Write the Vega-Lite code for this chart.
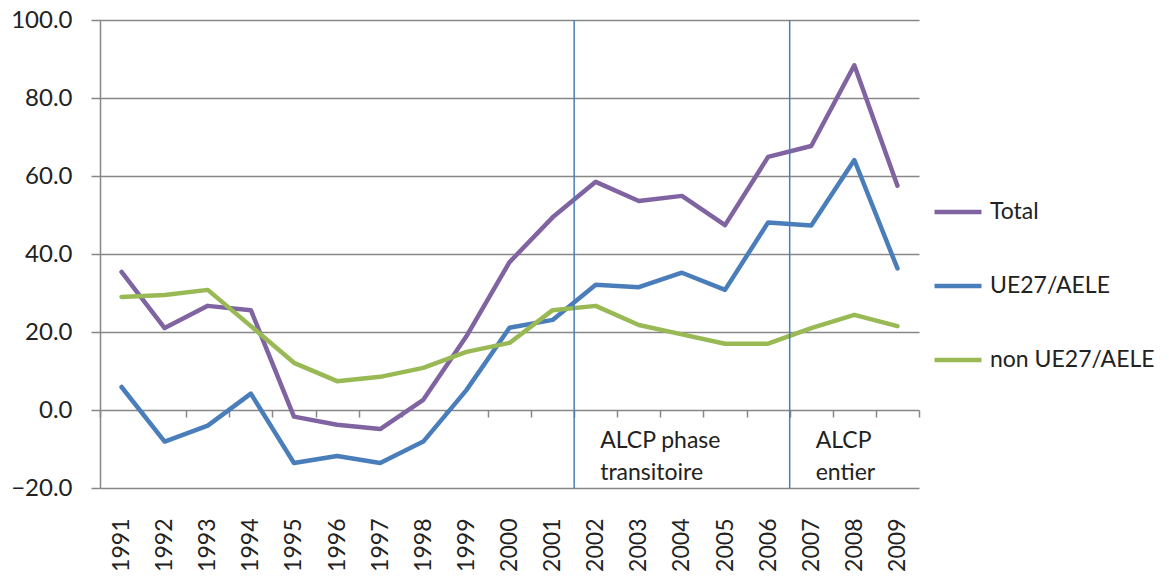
{
  "$schema": "https://vega.github.io/schema/vega-lite/v6.json",
  "width": 819,
  "height": 468,
  "autosize": {"type": "none"},
  "padding": {"left": 100, "top": 20, "right": 250, "bottom": 88},
  "config": {
    "view": {"stroke": null},
    "font": "Lato",
    "axis": {"labelFont": "Lato", "labelColor": "#222222"},
    "legend": {"labelFont": "Lato"}
  },
  "resolve": {"axis": {"x": "independent"}},
  "layer": [
    {
      "data": {
        "values": [
          {"year": 1991, "series": "Total", "value": 35.4},
          {"year": 1992, "series": "Total", "value": 21.0},
          {"year": 1993, "series": "Total", "value": 26.7},
          {"year": 1994, "series": "Total", "value": 25.6},
          {"year": 1995, "series": "Total", "value": -1.7},
          {"year": 1996, "series": "Total", "value": -3.8},
          {"year": 1997, "series": "Total", "value": -4.9},
          {"year": 1998, "series": "Total", "value": 2.6},
          {"year": 1999, "series": "Total", "value": 18.9},
          {"year": 2000, "series": "Total", "value": 37.9},
          {"year": 2001, "series": "Total", "value": 49.4},
          {"year": 2002, "series": "Total", "value": 58.5},
          {"year": 2003, "series": "Total", "value": 53.6},
          {"year": 2004, "series": "Total", "value": 54.9},
          {"year": 2005, "series": "Total", "value": 47.4},
          {"year": 2006, "series": "Total", "value": 64.9},
          {"year": 2007, "series": "Total", "value": 67.7},
          {"year": 2008, "series": "Total", "value": 88.4},
          {"year": 2009, "series": "Total", "value": 57.5},
          {"year": 1991, "series": "UE27/AELE", "value": 5.9},
          {"year": 1992, "series": "UE27/AELE", "value": -8.1},
          {"year": 1993, "series": "UE27/AELE", "value": -4.0},
          {"year": 1994, "series": "UE27/AELE", "value": 4.2},
          {"year": 1995, "series": "UE27/AELE", "value": -13.6},
          {"year": 1996, "series": "UE27/AELE", "value": -11.8},
          {"year": 1997, "series": "UE27/AELE", "value": -13.6},
          {"year": 1998, "series": "UE27/AELE", "value": -8.1},
          {"year": 1999, "series": "UE27/AELE", "value": 5.1},
          {"year": 2000, "series": "UE27/AELE", "value": 21.1},
          {"year": 2001, "series": "UE27/AELE", "value": 23.1},
          {"year": 2002, "series": "UE27/AELE", "value": 32.1},
          {"year": 2003, "series": "UE27/AELE", "value": 31.5},
          {"year": 2004, "series": "UE27/AELE", "value": 35.2},
          {"year": 2005, "series": "UE27/AELE", "value": 30.8},
          {"year": 2006, "series": "UE27/AELE", "value": 48.1},
          {"year": 2007, "series": "UE27/AELE", "value": 47.3},
          {"year": 2008, "series": "UE27/AELE", "value": 64.1},
          {"year": 2009, "series": "UE27/AELE", "value": 36.3},
          {"year": 1991, "series": "non UE27/AELE", "value": 29.0},
          {"year": 1992, "series": "non UE27/AELE", "value": 29.5},
          {"year": 1993, "series": "non UE27/AELE", "value": 30.8},
          {"year": 1994, "series": "non UE27/AELE", "value": 21.5},
          {"year": 1995, "series": "non UE27/AELE", "value": 12.1},
          {"year": 1996, "series": "non UE27/AELE", "value": 7.4},
          {"year": 1997, "series": "non UE27/AELE", "value": 8.5},
          {"year": 1998, "series": "non UE27/AELE", "value": 10.8},
          {"year": 1999, "series": "non UE27/AELE", "value": 14.9},
          {"year": 2000, "series": "non UE27/AELE", "value": 17.2},
          {"year": 2001, "series": "non UE27/AELE", "value": 25.6},
          {"year": 2002, "series": "non UE27/AELE", "value": 26.7},
          {"year": 2003, "series": "non UE27/AELE", "value": 21.8},
          {"year": 2004, "series": "non UE27/AELE", "value": 19.4},
          {"year": 2005, "series": "non UE27/AELE", "value": 17.0},
          {"year": 2006, "series": "non UE27/AELE", "value": 17.0},
          {"year": 2007, "series": "non UE27/AELE", "value": 21.0},
          {"year": 2008, "series": "non UE27/AELE", "value": 24.4},
          {"year": 2009, "series": "non UE27/AELE", "value": 21.5}
        ]
      },
      "mark": {"type": "line", "strokeWidth": 4.5, "strokeCap": "round", "strokeJoin": "round"},
      "encoding": {
        "x": {
          "field": "year",
          "type": "quantitative",
          "scale": {"domain": [1990.5, 2009.5], "nice": false, "zero": false},
          "axis": {
            "title": null,
            "values": [1991, 1992, 1993, 1994, 1995, 1996, 1997, 1998, 1999, 2000, 2001, 2002, 2003, 2004, 2005, 2006, 2007, 2008, 2009],
            "format": "d",
            "labelAngle": -90,
            "labelFontSize": 23,
            "labelPadding": 30,
            "ticks": false,
            "domain": false,
            "grid": false,
            "labelFlush": false,
            "labelOverlap": false
          }
        },
        "y": {
          "field": "value",
          "type": "quantitative",
          "scale": {"domain": [-20, 100], "nice": false, "zero": false},
          "axis": {
            "title": null,
            "values": [-20, 0, 20, 40, 60, 80, 100],
            "format": ".1f",
            "labelFontSize": 24,
            "labelPadding": 19,
            "tickSize": 9,
            "tickColor": "#878787",
            "tickWidth": 1.5,
            "domainColor": "#878787",
            "domainWidth": 1.5,
            "grid": true,
            "gridColor": "#878787",
            "gridWidth": 1.5,
            "labelFlush": false
          }
        },
        "color": {
          "field": "series",
          "type": "nominal",
          "sort": ["Total", "UE27/AELE", "non UE27/AELE"],
          "scale": {"domain": ["Total", "UE27/AELE", "non UE27/AELE"], "range": ["#8064A2", "#4A7EBB", "#98B954"]},
          "legend": {
            "title": null,
            "orient": "none",
            "legendX": 832,
            "legendY": 166,
            "symbolType": "stroke",
            "symbolSize": 2209,
            "symbolStrokeWidth": 4.5,
            "labelFontSize": 23,
            "labelOffset": 6,
            "labelLimit": 400,
            "rowPadding": 36,
            "labelColor": "#222222"
          }
        }
      }
    },
    {
      "data": {
        "values": [
          {"pos": 2001.5, "label": ["ALCP phase", "transitoire"]},
          {"pos": 2006.5, "label": ["ALCP", "entier"]}
        ]
      },
      "layer": [
        {
          "mark": {"type": "rule", "color": "#4A7EBB", "strokeWidth": 1.5},
          "encoding": {
            "x": {
              "field": "pos",
              "type": "quantitative",
              "axis": {
                "orient": "top",
                "offset": -390,
                "title": null,
                "values": [1990.5, 1991.5, 1992.5, 1993.5, 1994.5, 1995.5, 1996.5, 1997.5, 1998.5, 1999.5, 2000.5, 2001.5, 2002.5, 2003.5, 2004.5, 2005.5, 2006.5, 2007.5, 2008.5, 2009.5],
                "labels": false,
                "tickSize": -7,
                "tickColor": "#878787",
                "tickWidth": 1.5,
                "domain": false,
                "grid": false
              }
            }
          }
        },
        {
          "mark": {"type": "text", "align": "left", "baseline": "alphabetic", "fontSize": 23, "lineHeight": 32, "dx": 26, "color": "#222222", "font": "Lato"},
          "encoding": {
            "x": {"field": "pos", "type": "quantitative"},
            "y": {"datum": -9.7},
            "text": {"field": "label"}
          }
        }
      ]
    }
  ]
}
